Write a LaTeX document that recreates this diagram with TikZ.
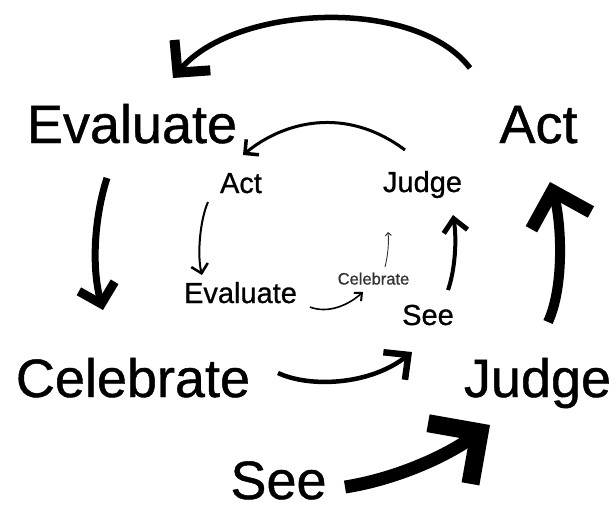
\documentclass[tikz,border=0pt]{standalone}
\usepackage{fontspec}
\setmainfont{Liberation Sans}
\newfontfamily\labelfont{Liberation Sans}[FakeBold=0.8]
\usetikzlibrary{arrows.meta}

\begin{document}
\begin{tikzpicture}[x=1pt,y=-1pt,
  bigword/.style={font=\labelfont\fontsize{54}{60}\selectfont, inner sep=0pt, anchor=base},
  midword/.style={font=\labelfont\fontsize{29}{32}\selectfont, inner sep=0pt, anchor=base},
  smallword/.style={font=\labelfont\fontsize{16.5}{18}\selectfont, inner sep=0pt, anchor=base, text=black!80},
  chev/.style n args={3}{-{Straight Barb[sharp,length=#1,width=#2,line width=#3]}}]

\useasboundingbox (0,0) rectangle (615,509);

\node[bigword] (evalA) at (132,143) {Evaluate};
\node[bigword] (actA) at (538.5,143) {Act};
\node[bigword] (celA) at (133,397) {Celebrate};
\node[bigword] (judgeA) at (537.5,397) {Judge};
\node[bigword] (seeA) at (278.5,499) {See};

\node[midword] (actB) at (241,193) {Act};
\node[midword] (judgeB) at (422.5,192) {Judge};
\node[midword] (evalB) at (240.5,303) {Evaluate};
\node[midword] (seeB) at (428,325) {See};
\node[smallword] (celC) at (373.5,284.5) {Celebrate};

\coordinate (actA-out) at (470,68);
\coordinate (evalA-in) at (173,78);
\coordinate (evalA-out) at (107,178);
\coordinate (celA-in) at (103,310);
\coordinate (celA-out) at (278,373);
\coordinate (seeB-in) at (412,352);
\coordinate (seeA-out) at (345,487);
\coordinate (judgeA-in) at (490,425);
\coordinate (judgeA-out) at (548,322);
\coordinate (actA-in) at (550,182);

\coordinate (judgeB-out) at (405,150);
\coordinate (actB-in) at (243,155);
\coordinate (actB-out) at (208,202);
\coordinate (evalB-in) at (202,275);
\coordinate (evalB-out) at (310,307);
\coordinate (celC-in) at (363,292);
\coordinate (celC-out) at (385,267);
\coordinate (judgeB-in2) at (388,232);
\coordinate (seeB-out) at (448,290);
\coordinate (judgeB-in) at (453,215);

\draw[line width=5.5pt, chev={23pt}{47pt}{10pt}] (actA-out) .. controls (415,-4) and (235,5) .. (evalA-in);
\draw[line width=7pt, chev={18pt}{37pt}{9pt}] (evalA-out) .. controls (95,215) and (91,265) .. (celA-in);
\draw[line width=4.5pt, chev={18pt}{35pt}{6.5pt}] (celA-out) .. controls (310,388) and (370,385) .. (seeB-in);
\draw[line width=13pt, chev={37pt}{74pt}{18pt}] (seeA-out) .. controls (390,480) and (440,460) .. (judgeA-in);
\draw[line width=10pt, chev={31pt}{62pt}{13pt}] (judgeA-out) .. controls (565,285) and (561,220) .. (actA-in);

\draw[line width=3pt, chev={10pt}{20pt}{3.5pt}] (judgeB-out) .. controls (345,105) and (283,122) .. (actB-in);
\draw[line width=2pt, chev={8.5pt}{17pt}{2.5pt}] (actB-out) .. controls (200,220) and (197,255) .. (evalB-in);
\draw[line width=1.6pt, chev={6pt}{11pt}{2pt}] (evalB-out) .. controls (325,313) and (345,308) .. (celC-in);
\draw[line width=0.9pt, black!80, chev={3pt}{6pt}{1pt}] (celC-out) .. controls (388,255) and (389,242) .. (judgeB-in2);
\draw[line width=4pt, chev={13pt}{24pt}{5pt}] (seeB-out) .. controls (455,270) and (457,240) .. (judgeB-in);

\end{tikzpicture}
\end{document}
